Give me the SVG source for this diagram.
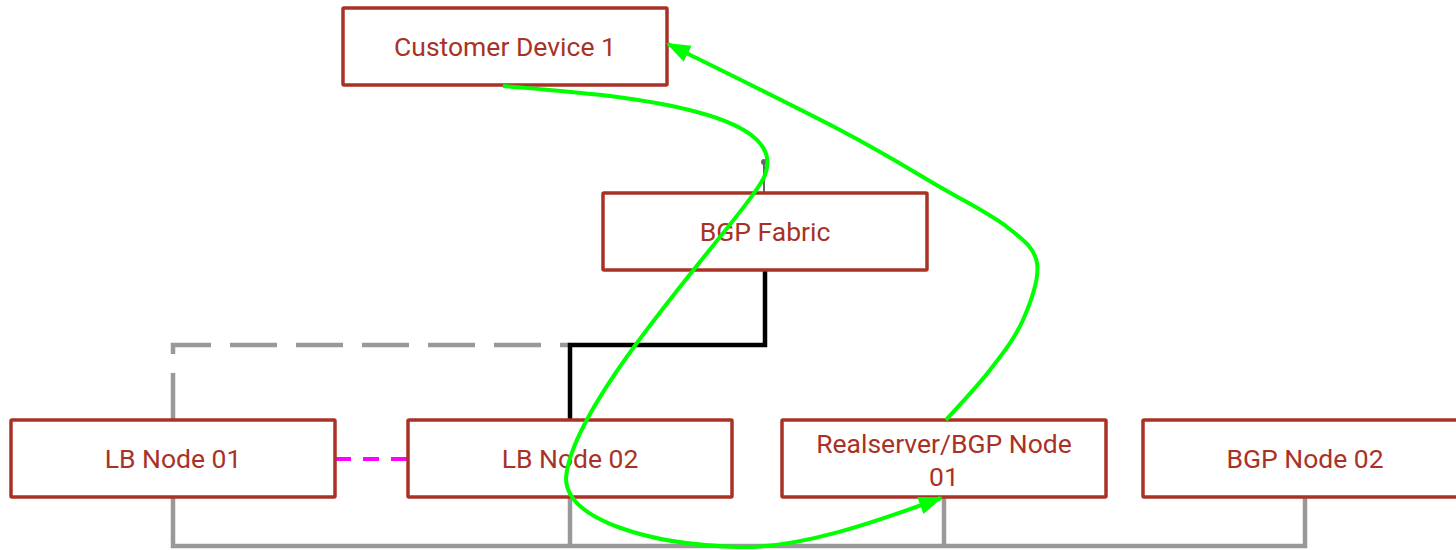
<svg xmlns="http://www.w3.org/2000/svg" width="1456" height="550" viewBox="0 0 1456 550">
  <style>
    .box { fill: #ffffff; stroke: #a93226; stroke-width: 3.5; }
    .label { font-family: Roboto, "Liberation Sans", sans-serif; font-size: 26.5px; fill: #a93226; text-anchor: middle; }
    .bus { fill: none; stroke: #999999; stroke-width: 4.5; }
    .flow { fill: none; stroke: #00ff00; stroke-width: 4; }
  </style>
  <defs>
    <marker id="arrowGreen" markerUnits="userSpaceOnUse" markerWidth="26" markerHeight="20" refX="22" refY="9" orient="auto">
      <path d="M0,0 L24,9 L0,18 z" fill="#00ff00"/>
    </marker>
  </defs>
  <rect width="1456" height="550" fill="#ffffff"/>

  <g id="connectors">
    <path class="bus" d="M173,497 V546 H1305 V497"/>
    <path class="bus" d="M570,497 V546"/>
    <path class="bus" d="M944,497 V546"/>
    <path d="M173,420 V345 H570" fill="none" stroke="#999999" stroke-width="4.5" stroke-dasharray="47,19"/>
    <path d="M570,420 V345 H765 V270" fill="none" stroke="#000000" stroke-width="4.5"/>
    <path d="M335,459 H408" fill="none" stroke="#ff00ff" stroke-width="4" stroke-dasharray="16,12"/>
    <line x1="764" y1="162" x2="764" y2="193" stroke="#666666" stroke-width="2"/>
    <circle cx="764" cy="162" r="3" fill="#666666"/>
  </g>

  <g id="customer-device-1">
    <rect class="box" x="343" y="8" width="324" height="77" rx="1"/>
    <text class="label" x="505" y="56">Customer Device 1</text>
  </g>
  <g id="bgp-fabric">
    <rect class="box" x="603" y="193" width="324" height="77" rx="1"/>
    <text class="label" x="765" y="241">BGP Fabric</text>
  </g>
  <g id="lb-node-01">
    <rect class="box" x="11" y="420" width="324" height="77" rx="1"/>
    <text class="label" x="173" y="468">LB Node 01</text>
  </g>
  <g id="lb-node-02">
    <rect class="box" x="408" y="420" width="324" height="77" rx="1"/>
    <text class="label" x="570" y="468">LB Node 02</text>
  </g>
  <g id="realserver-bgp-node-01">
    <rect class="box" x="782" y="420" width="324" height="77" rx="1"/>
    <text class="label" x="944" y="453">Realserver/BGP Node</text>
    <text class="label" x="944" y="486">01</text>
  </g>
  <g id="bgp-node-02">
    <rect class="box" x="1143" y="420" width="324" height="77" rx="1"/>
    <text class="label" x="1305" y="468">BGP Node 02</text>
  </g>

  <g id="flows">
    <path class="flow" marker-end="url(#arrowGreen)" d="M503,86 C620,95 790,110 765,175 C752,210 572,395 566,478 C566,520 650,545 740,547 C800,548 870,524 941,498"/>
    <path class="flow" marker-end="url(#arrowGreen)" d="M946,420 C953.3,411.7 977.2,386.7 990,370 C1002.8,353.3 1015.2,337.8 1023,320 C1030.8,302.2 1039.7,278.5 1037,263 C1034.3,247.5 1023.2,239.7 1007,227 C990.8,214.3 967.8,203.2 940,187 C912.2,170.8 885.3,153.8 840,130 C794.7,106.2 696.7,58.3 668,44"/>
  </g>
</svg>
